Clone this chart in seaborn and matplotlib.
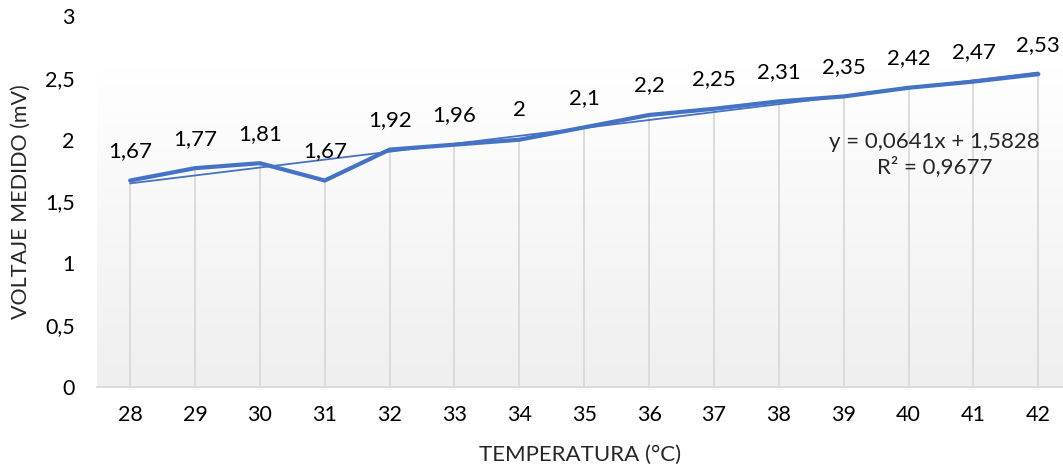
from matplotlib import pyplot as plt
from matplotlib.ticker import FuncFormatter
import seaborn as sns
import pandas as pd
import numpy as np

temperatura = [28, 29, 30, 31, 32, 33, 34, 35, 36, 37, 38, 39, 40, 41, 42]
voltaje = [1.67, 1.77, 1.81, 1.67, 1.92, 1.96, 2.00, 2.10, 2.20, 2.25, 2.31, 2.35, 2.42, 2.47, 2.53]
ecuacion = "y = 0,0641x + 1,5828\nR² = 0,9677"

BLUE = '#4472C4'
GRID = '#d9d9d9'


def coma(v, pos=None):
    """ number with decimal comma, like the spreadsheet """
    return ('%g' % round(v, 2)).replace('.', ',')


if __name__ == '__main__':
    sns.set_style('white')
    plt.rcParams['font.family'] = ['Lato', 'DejaVu Sans']

    df = pd.DataFrame({'temp': temperatura, 'volt': voltaje})

    fig = plt.figure(figsize=(10.63, 4.72), dpi=100)
    ax = fig.add_axes([0.0913, 0.180, 0.9087, 0.786])

    # gradient background of the plot area
    grad = np.linspace(0, 1, 256).reshape(-1, 1)
    ax.imshow(grad, cmap=sns.blend_palette(['#ffffff', '#efefef'], as_cmap=True),
              aspect='auto', extent=(27.49, 42.38, 0, 2.6), origin='upper',
              zorder=0)

    # drop lines from each point down to the axis
    ax.vlines(df['temp'], 0, df['volt'], color=GRID, lw=1.3, zorder=1)

    # trendline (linear fit over the series)
    sns.regplot(x='temp', y='volt', data=df, scatter=False, ci=None,
                truncate=True, line_kws={'color': BLUE, 'lw': 1.3, 'zorder': 3}, ax=ax)
    sns.lineplot(x='temp', y='volt', data=df, color=BLUE, lw=3.0, ax=ax, zorder=2)

    for t, v in zip(temperatura, voltaje):
        ax.annotate(coma(v), (t, v), xytext=(0, 14), textcoords='offset points',
                    ha='center', va='bottom', fontsize=16, color='#000000')

    ax.text(40.4, 1.88, ecuacion, ha='center', va='center', fontsize=16,
            linespacing=1.2)

    ax.set_xlim(27.49, 42.38)
    ax.set_ylim(0, 3)
    ax.set_xticks(temperatura)
    ax.set_yticks(np.arange(0, 3.01, 0.5))
    ax.yaxis.set_major_formatter(FuncFormatter(coma))
    ax.grid(False)
    for s in ['top', 'right', 'left']:
        ax.spines[s].set_visible(False)
    ax.spines['bottom'].set_color(GRID)
    ax.spines['bottom'].set_linewidth(1.3)
    ax.tick_params(axis='both', length=0, labelsize=15.5, colors='#000000')
    ax.tick_params(axis='y', pad=16)
    ax.tick_params(axis='x', pad=13)

    ax.set_xlabel('TEMPERATURA (°C)', fontsize=16, labelpad=14)
    ax.set_ylabel('VOLTAJE MEDIDO (mV)', fontsize=15.5, labelpad=10)

    fig.savefig('out.png', dpi=100)
